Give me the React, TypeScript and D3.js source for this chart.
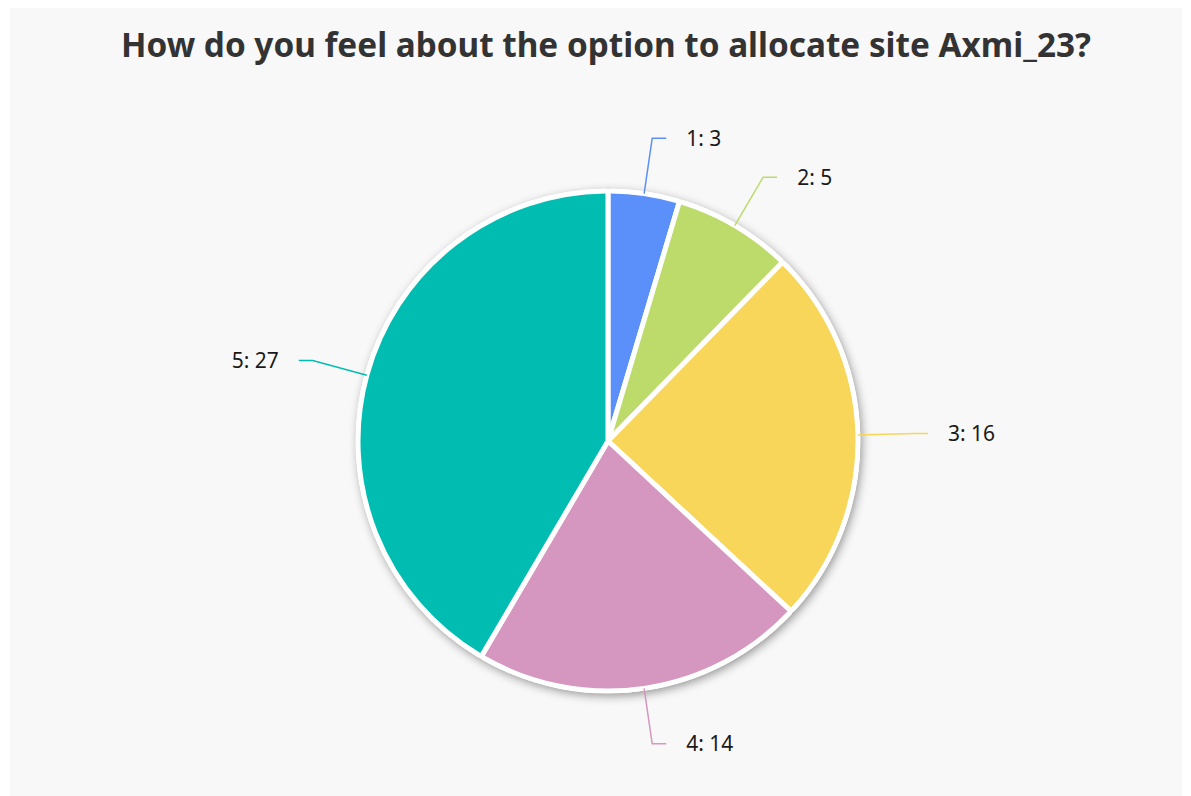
import React from "react";
import * as d3 from "d3";

const categories = ["1", "2", "3", "4", "5"];
const values = [3, 5, 16, 14, 27];
const colors = ["#5b8ff9", "#bcdb6a", "#f7d65a", "#d596bf", "#00bcb1"];
const title = "How do you feel about the option to allocate site Axmi_23?";

const W = 1191;
const H = 796;

export default function App() {
  const cx = 608;
  const cy = 441;
  const r = 250;
  const data = categories.map((c, i) => ({ c, v: values[i], color: colors[i] }));
  const pie = d3.pie<any>().value((d: any) => d.v).sort(null);
  const arcs = pie(data);
  const arc = d3.arc<any>().innerRadius(0).outerRadius(r).cornerRadius(3);
  const elbowR = r + 56;
  return (
    <svg width={W} height={H} style={{ position: "absolute", left: 0, top: 0, display: "block" }}>
      <defs>
        <filter id="sh" x="-20%" y="-20%" width="140%" height="140%">
          <feDropShadow dx="2" dy="3" stdDeviation="5" floodColor="#000" floodOpacity="0.4" />
        </filter>
      </defs>
      <rect x={0} y={0} width={W} height={H} fill="#ffffff" />
      <rect x={10} y={8} width={1172} height={788} fill="#f8f8f8" />
      <text x={606} y={57} textAnchor="middle" fontFamily="'Noto Sans', sans-serif" fontWeight="bold" fontSize={33.3} fill="#333">
        {title}
      </text>
      <g transform={`translate(${cx},${cy})`}>
        <circle r={r + 2} fill="#fff" filter="url(#sh)" />
        {arcs.map((a, i) => (
          <path key={i} d={arc(a) || ""} fill={a.data.color} stroke="#fff" strokeWidth={5} strokeLinejoin="round" />
        ))}
        {arcs.map((a, i) => {
          const m = (a.startAngle + a.endAngle) / 2;
          const sx = Math.sin(m) * r;
          const sy = -Math.cos(m) * r;
          const ex = Math.sin(m) * elbowR;
          const ey = -Math.cos(m) * elbowR;
          const side = Math.sin(m) >= 0 ? 1 : -1;
          const hx = ex + side * 14;
          const tx = hx + side * 20;
          return (
            <g key={"l" + i}>
              <path d={`M${sx},${sy}L${ex},${ey}L${hx},${ey}`} fill="none" stroke={a.data.color} strokeWidth={1.5} />
              <text x={tx} y={ey} dy="0.35em" textAnchor={side > 0 ? "start" : "end"} fontFamily="'Noto Sans', sans-serif" fontSize={21} fill="#1a1a1a">
                {`${a.data.c}: ${a.data.v}`}
              </text>
            </g>
          );
        })}
      </g>
    </svg>
  );
}
